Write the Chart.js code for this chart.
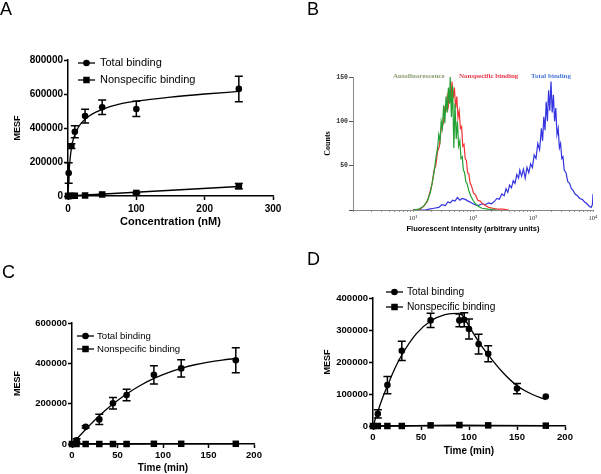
<!DOCTYPE html>
<html lang="en">
<head>
<meta charset="UTF-8">
<title>Binding assays</title>
<script src="https://cdn.jsdelivr.net/npm/chart.js"></script>
<style>
  body { margin: 0; background: #fff; }
  #wrap { position: relative; width: 601px; height: 474px; overflow: hidden; background: #fff; }
  canvas { position: absolute; }
  .letter { position: absolute; font-family: "Liberation Sans", Arial, sans-serif; font-size: 18px; line-height: 1; color: #000; }
</style>
</head>
<body>
<div id="wrap">
  <canvas id="chartA" width="300" height="240" style="left:0;top:0;width:300px;height:240px"></canvas>
  <canvas id="chartB" width="301" height="240" style="left:300px;top:0;width:301px;height:240px"></canvas>
  <canvas id="chartC" width="300" height="234" style="left:0;top:240px;width:300px;height:234px"></canvas>
  <canvas id="chartD" width="301" height="234" style="left:300px;top:240px;width:301px;height:234px"></canvas>
  <div class="letter" style="left:0;top:0">A</div>
  <div class="letter" style="left:307px;top:0">B</div>
  <div class="letter" style="left:2px;top:263px">C</div>
  <div class="letter" style="left:307px;top:250px">D</div>
</div>

<script>
// ---- Panel A: saturation binding (MESF vs concentration, nM) ----
const aTotalConc = [1, 5, 10, 25, 50, 100, 250];
const aTotalMesf = [135000, 294000, 378000, 470000, 522000, 512000, 630000];
const aTotalErr  = [60000, 14000, 35000, 40000, 43000, 45000, 75000];
const aNsConc = [0, 1, 5, 10, 25, 50, 100, 250];
const aNsMesf = [0, 0, 1000, 1500, 3000, 9000, 18000, 58000];
const aNsErr  = [0, 0, 0, 0, 0, 2000, 3000, 15000];
const aFitConc = [0, 1, 2, 3, 5, 7.5, 10, 15, 20, 30, 40, 50, 75, 100, 150, 200, 250];
const aFitMesf = [0, 90000, 165000, 215000, 280000, 330000, 360000, 403000, 432000, 468000, 492000, 510000, 540000, 558000, 582000, 600000, 615000];
const aNsFitConc = [0, 250];
const aNsFitMesf = [0, 56000];

// ---- Panel B: flow cytometry histograms (counts vs intensity) ----
const bGreenX = [10, 12.6, 14.1, 15.8, 17.8, 19.5, 20.9, 22.4, 24.0, 25.7, 26.9, 28.2, 29.5, 30.9, 32.4, 33.9, 35.5, 37.2, 38.9, 40.7, 41.7, 43.7, 45.7, 47.9, 50.1, 52.5, 55.0, 57.5, 60.3, 63.1, 66.1, 69.2, 72.4, 75.9, 79.4, 85.1, 91.2, 100, 110, 123, 141, 178, 251];
const bGreenY = [0, 1, 3, 6, 12, 20, 31, 42, 58, 70, 85, 78, 100, 92, 118, 98, 128, 110, 138, 120, 150, 105, 140, 70, 120, 80, 100, 72, 78, 58, 60, 45, 42, 32, 30, 22, 16, 11, 7, 4, 2, 1, 0];
const bRedX = [10, 13.2, 15.1, 17.4, 19.5, 20.9, 22.4, 24.0, 25.7, 27.5, 29.5, 31.6, 33.9, 35.5, 37.2, 38.9, 40.7, 42.7, 44.7, 46.8, 49.0, 51.3, 53.7, 56.2, 58.9, 61.7, 64.6, 67.6, 70.8, 74.1, 77.6, 81.3, 85.1, 89.1, 95.5, 102, 110, 120, 132, 145, 162, 182, 214, 251, 316, 398];
const bRedY = [0, 1, 4, 10, 22, 30, 45, 50, 66, 72, 92, 96, 115, 112, 128, 118, 135, 122, 145, 126, 138, 115, 128, 104, 112, 92, 94, 72, 74, 58, 56, 42, 41, 31, 26, 19, 17, 11, 10, 7, 5, 3, 2, 1, 1, 0];
const bBlueX = [10, 15.8, 18.6, 22.4, 26.9, 30.2, 34.7, 38.0, 41.7, 45.7, 50.1, 55.0, 60.3, 66.1, 74.1, 83.2, 95.5, 107, 123, 141, 158, 182, 204, 229, 251, 275, 302, 331, 355, 380, 407, 437, 468, 501, 537, 575, 603, 646, 692, 741, 794, 851, 912, 977, 1047, 1122, 1202, 1288, 1380, 1445, 1514, 1585, 1660, 1738, 1820, 1905, 1995, 2089, 2188, 2291, 2399, 2512, 2630, 2754, 2884, 3020, 3162, 3311, 3548, 3802, 4074, 4365, 4677, 5012, 5495, 6026, 6607, 7244, 7943, 8710, 9333, 9772, 10000];
const bBlueY = [0, 0, 1, 2, 3, 6, 5, 9, 8, 11, 10, 14, 11, 13, 12, 10, 8, 6, 5, 7, 6, 8, 7, 10, 13, 12, 18, 16, 24, 20, 28, 25, 33, 30, 40, 36, 45, 38, 46, 36, 48, 42, 52, 48, 62, 58, 75, 68, 92, 78, 105, 90, 122, 100, 135, 112, 145, 110, 130, 100, 115, 85, 92, 70, 75, 58, 60, 45, 42, 32, 30, 24, 22, 18, 16, 13, 12, 9, 7, 4, 3, 6, 18];
const bTickValues = [1, 2, 3, 4, 5, 6, 7, 8, 9, 10, 20, 30, 40, 50, 60, 70, 80, 90, 100, 200, 300, 400, 500, 600, 700, 800, 900, 1000, 2000, 3000, 4000, 5000, 6000, 7000, 8000, 9000, 10000];
const bSeriesNames = ['Autofluorescence', 'Nonspecific binding', 'Total binding'];

// ---- Panel C: association (MESF vs time, min) ----
const cTotalTime = [0, 5, 15, 30, 45, 60, 90, 120, 180];
const cTotalMesf = [0, 18000, 85000, 122000, 202000, 243000, 343000, 375000, 415000];
const cTotalErr  = [0, 8000, 6000, 25000, 28000, 28000, 45000, 43000, 62000];
const cNsTime = [0, 5, 15, 30, 45, 60, 90, 120, 180];
const cNsMesf = [0, 0, 0, 0, 0, 0, 1000, 1000, 1000];
const cFitTime = [0, 15, 30, 45, 60, 75, 90, 105, 120, 135, 150, 165, 180];
const cFitMesf = [0, 72000, 140000, 198000, 248000, 290000, 325000, 353000, 375000, 393000, 406000, 416000, 424000];

// ---- Panel D: association then dissociation ----
const dTotalTime = [0, 5, 15, 30, 60, 90, 95, 100, 110, 120, 150, 180];
const dTotalMesf = [0, 38000, 128000, 235000, 330000, 330000, 332000, 303000, 256000, 226000, 117000, 92000];
const dTotalErr  = [0, 13000, 27000, 30000, 22000, 20000, 22000, 31000, 31000, 25000, 16000, 0];
const dNsTime = [0, 5, 15, 30, 60, 90, 120, 180];
const dNsMesf = [0, 0, 0, 0, 2000, 3000, 2000, 1000];
const dFitTime = [0, 5, 10, 15, 22.5, 30, 45, 60, 75, 90, 95, 100, 110, 120, 135, 150, 165, 180];
const dFitMesf = [0, 45000, 88000, 125000, 178000, 222000, 288000, 328000, 348000, 352000, 338000, 312000, 264000, 222000, 168000, 126000, 100000, 82000];

const legendNames = ['Total binding', 'Nonspecific binding'];

Chart.defaults.font.family = '"Liberation Sans", Arial, sans-serif';
Chart.defaults.color = '#000';

function pts(xs, ys) {
    return xs.map((x, i) => ({ x: x, y: ys[i] }));
}

// extra drawing per canvas: error bars, legend keys, coloured labels
const extras = {
    chartA: {
        bars: [{ ds: 0, err: aTotalErr }, { ds: 1, err: aNsErr }],
        keys: { x1: 78, x2: 95, tx: 100, y: [63, 80], font: '11px "Liberation Sans", Arial, sans-serif' }
    },
    chartB: {
        labels: [
            { text: bSeriesNames[0], x: 93, y: 76, color: '#8c9c70' },
            { text: bSeriesNames[1], x: 159, y: 76, color: '#e8384a' },
            { text: bSeriesNames[2], x: 231, y: 76, color: '#4a78d8' }
        ]
    },
    chartC: {
        bars: [{ ds: 0, err: cTotalErr }],
        keys: { x1: 77, x2: 94, tx: 97, y: [96, 109], font: '9.6px "Liberation Sans", Arial, sans-serif' }
    },
    chartD: {
        bars: [{ ds: 0, err: dTotalErr }],
        keys: { x1: 86, x2: 103, tx: 107, y: [52, 67], font: '10.2px "Liberation Sans", Arial, sans-serif' }
    }
};

function marker(ctx, kind, x, y) {
    ctx.beginPath();
    if (kind === 'rect') {
        ctx.rect(x - 3.25, y - 3.25, 6.5, 6.5);
    } else {
        ctx.arc(x, y, 3.3, 0, Math.PI * 2);
    }
    ctx.fill();
}

Chart.register({
    id: 'deco',
    afterDatasetsDraw(chart) {
        const ex = extras[chart.canvas.id];
        if (!ex) return;
        const ctx = chart.ctx;
        const xs = chart.scales.x, ys = chart.scales.y;
        ctx.save();
        ctx.strokeStyle = '#000';
        ctx.fillStyle = '#000';
        ctx.lineWidth = 1.5;
        (ex.bars || []).forEach(b => {
            chart.data.datasets[b.ds].data.forEach((p, i) => {
                const e = b.err[i];
                if (!e) return;
                const px = xs.getPixelForValue(p.x);
                const top = ys.getPixelForValue(p.y + e);
                const bot = ys.getPixelForValue(Math.max(0, p.y - e));
                ctx.beginPath();
                ctx.moveTo(px, top); ctx.lineTo(px, bot);
                ctx.moveTo(px - 4, top); ctx.lineTo(px + 4, top);
                ctx.moveTo(px - 4, bot); ctx.lineTo(px + 4, bot);
                ctx.stroke();
            });
        });
        if (ex.keys) {
            const k = ex.keys;
            ctx.font = k.font;
            ctx.textBaseline = 'middle';
            legendNames.forEach((name, i) => {
                const y = k.y[i];
                ctx.lineWidth = 1.3;
                ctx.beginPath();
                ctx.moveTo(k.x1, y); ctx.lineTo(k.x2, y);
                ctx.stroke();
                marker(ctx, i === 0 ? 'circle' : 'rect', (k.x1 + k.x2) / 2, y);
                ctx.fillText(name, k.tx, y);
            });
        }
        (ex.labels || []).forEach(l => {
            ctx.font = 'bold 7px "Liberation Serif", "Times New Roman", serif';
            ctx.textBaseline = 'middle';
            ctx.fillStyle = l.color;
            ctx.fillText(l.text, l.x, l.y);
        });
        ctx.restore();
    }
});

function prismAxis(o) {
    return {
        type: 'linear',
        min: 0,
        max: o.max,
        afterFit: s => { if (s.isHorizontal()) s.height = o.size; else s.width = o.size; },
        border: { color: '#000', width: 1.5 },
        grid: { drawOnChartArea: false, drawTicks: true, tickLength: 4, tickWidth: 1.5, tickColor: '#000' },
        ticks: {
            stepSize: o.step, padding: o.tickPad, color: '#000', autoSkip: false, maxRotation: 0,
            font: { size: o.tickSize, weight: 'bold' },
            callback: v => String(v)
        },
        title: {
            display: true, text: o.title, color: '#000',
            font: { size: o.titleSize, weight: 'bold' },
            padding: o.titlePad
        }
    };
}

function bindingSets(total, ns, fit, nsFit) {
    const sets = [
        { data: total, showLine: false, pointStyle: 'circle', pointRadius: 3.3, pointBackgroundColor: '#000', pointBorderColor: '#000', pointBorderWidth: 0, clip: false },
        { data: ns, showLine: false, pointStyle: 'rect', pointRadius: 4.6, pointBackgroundColor: '#000', pointBorderColor: '#000', pointBorderWidth: 0, clip: false },
        { data: fit, borderColor: '#000', borderWidth: 1.3, pointRadius: 0, cubicInterpolationMode: 'monotone', clip: false }
    ];
    sets.push({ data: nsFit, borderColor: '#000', borderWidth: 1.3, pointRadius: 0, tension: 0, clip: false });
    return sets;
}

const common = {
    responsive: false,
    animation: false,
    devicePixelRatio: 1,
    plugins: { legend: { display: false }, tooltip: { enabled: false } }
};

// A
new Chart(document.getElementById('chartA'), {
    type: 'line',
    data: { datasets: bindingSets(pts(aTotalConc, aTotalMesf), pts(aNsConc, aNsMesf), pts(aFitConc, aFitMesf), pts(aNsFitConc, aNsFitMesf)) },
    options: Object.assign({}, common, {
        layout: { padding: { top: 60, right: 27, left: 0, bottom: 0 } },
        scales: {
            x: prismAxis({ max: 300, step: 100, size: 44, tickPad: 3, tickSize: 10, title: 'Concentration (nM)', titleSize: 11, titlePad: { top: 0, bottom: 11.4 } }),
            y: prismAxis({ max: 800000, step: 200000, size: 68, tickPad: 1, tickSize: 10, title: 'MESF', titleSize: 9, titlePad: { top: 12.6, bottom: 0 } })
        }
    })
});

// B
new Chart(document.getElementById('chartB'), {
    type: 'line',
    data: {
        datasets: [
            { data: pts(bGreenX, bGreenY), borderColor: '#22a032', borderWidth: 1.2, pointRadius: 0, tension: 0 },
            { data: pts(bRedX, bRedY), borderColor: '#f03434', borderWidth: 1.2, pointRadius: 0, tension: 0 },
            { data: pts(bBlueX, bBlueY), borderColor: '#3434e0', borderWidth: 1.2, pointRadius: 0, tension: 0 }
        ]
    },
    options: Object.assign({}, common, {
        layout: { padding: { top: 77, right: 8, left: 0, bottom: 0 } },
        scales: {
            x: {
                type: 'logarithmic', min: 1, max: 10000,
                afterFit: s => { s.height = 30; },
                afterBuildTicks: s => { s.ticks = bTickValues.map(v => ({ value: v })); },
                border: { color: '#888', width: 1 },
                grid: { drawOnChartArea: false, tickLength: 2, tickColor: '#999', tickWidth: 1 },
                ticks: {
                    autoSkip: false, maxRotation: 0, padding: 2, color: '#333',
                    font: { family: '"Liberation Serif", serif', size: 6.5 },
                    callback: v => {
                        const p = Math.round(Math.log10(v));
                        const sup = ['\u2070', '\u00b9', '\u00b2', '\u00b3', '\u2074'];
                        return (p >= 1 && Math.abs(Math.log10(v) - p) < 1e-9) ? '10' + sup[p] : '';
                    }
                },
                title: {
                    display: true, text: 'Fluorescent Intensity (arbitrary units)', color: '#000',
                    font: { size: 7.5, weight: 'bold' }, padding: { top: 0, bottom: 6.8 }
                }
            },
            y: {
                type: 'linear', min: 0, max: 150,
                afterFit: s => { s.width = 53; },
                border: { color: '#888', width: 1 },
                grid: { drawOnChartArea: false, tickLength: 4, tickColor: '#555', tickWidth: 1 },
                ticks: {
                    stepSize: 50, padding: 1, color: '#333',
                    font: { family: '"Liberation Mono", monospace', size: 6.5, weight: 'bold' },
                    callback: v => v === 0 ? '' : String(v)
                },
                title: {
                    display: true, text: 'Counts', color: '#000',
                    font: { family: '"Liberation Serif", serif', size: 8, weight: 'bold' },
                    padding: { top: 23, bottom: 0 }
                }
            }
        }
    })
});

// C
new Chart(document.getElementById('chartC'), {
    type: 'line',
    data: { datasets: bindingSets(pts(cTotalTime, cTotalMesf), pts(cNsTime, cNsMesf), pts(cFitTime, cFitMesf), pts(cNsTime, cNsMesf)) },
    options: Object.assign({}, common, {
        layout: { padding: { top: 83, right: 46, left: 0, bottom: 0 } },
        scales: {
            x: prismAxis({ max: 200, step: 50, size: 30, tickPad: 2, tickSize: 9.5, title: 'Time (min)', titleSize: 10, titlePad: { top: 0, bottom: 0 } }),
            y: prismAxis({ max: 600000, step: 200000, size: 72, tickPad: 1, tickSize: 9.5, title: 'MESF', titleSize: 9, titlePad: { top: 12.6, bottom: 0 } })
        }
    })
});

// D
new Chart(document.getElementById('chartD'), {
    type: 'line',
    data: { datasets: bindingSets(pts(dTotalTime, dTotalMesf), pts(dNsTime, dNsMesf), pts(dFitTime, dFitMesf), pts(dNsTime, dNsMesf)) },
    options: Object.assign({}, common, {
        layout: { padding: { top: 58, right: 36, left: 0, bottom: 0 } },
        scales: {
            x: prismAxis({ max: 200, step: 50, size: 48, tickPad: 2, tickSize: 9.5, title: 'Time (min)', titleSize: 10, titlePad: { top: 0, bottom: 16.4 } }),
            y: prismAxis({ max: 400000, step: 100000, size: 73, tickPad: 1, tickSize: 9.5, title: 'MESF', titleSize: 9, titlePad: { top: 22.6, bottom: 0 } })
        }
    })
});
</script>
</body>
</html>
